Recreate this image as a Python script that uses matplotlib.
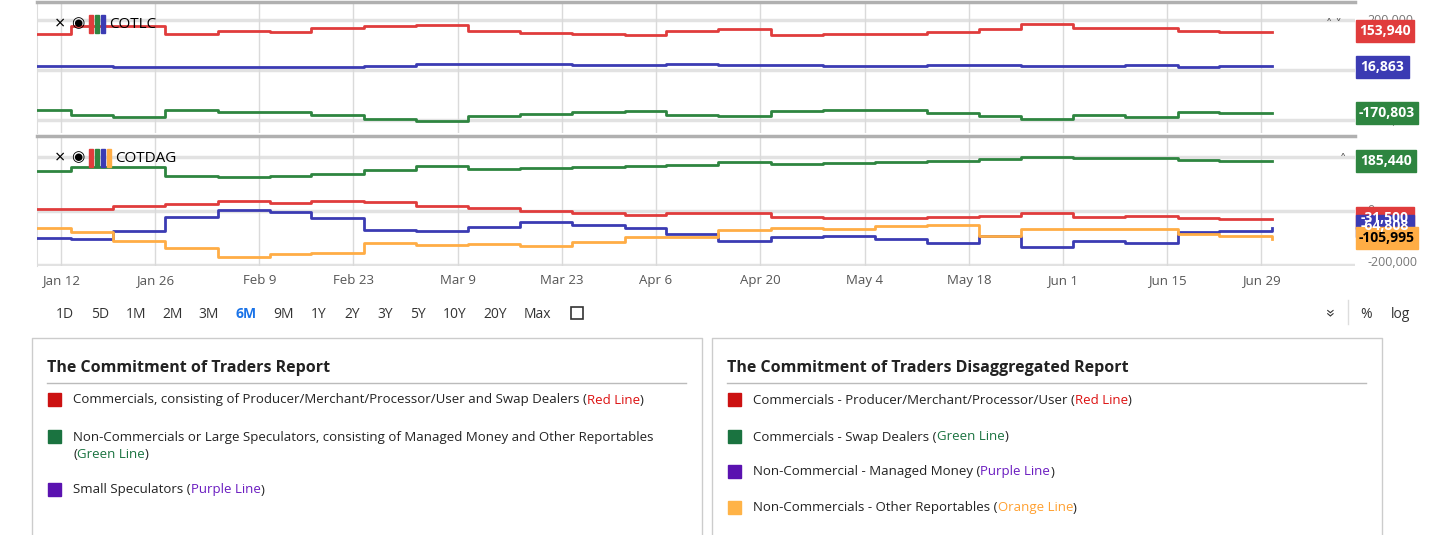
import numpy as np
import matplotlib
matplotlib.use("Agg")
import matplotlib.pyplot as plt
from matplotlib.patches import Rectangle

plt.rcParams['font.family'] = ['Open Sans', 'DejaVu Sans']

W, H = 1430, 535
holidays = ['2026-01-19', '2026-02-16', '2026-04-03', '2026-05-25', '2026-06-19']

# weekly COT report dates (Tuesdays); last one is the latest print
dates = ['2026-01-06', '2026-01-13', '2026-01-20', '2026-01-27', '2026-02-03', '2026-02-10',
         '2026-02-17', '2026-02-24', '2026-03-03', '2026-03-10', '2026-03-17', '2026-03-24',
         '2026-03-31', '2026-04-07', '2026-04-14', '2026-04-21', '2026-04-28', '2026-05-05',
         '2026-05-12', '2026-05-19', '2026-05-26', '2026-06-02', '2026-06-09', '2026-06-16',
         '2026-06-23', '2026-06-30']

# COTLC (thousands)
lc_red = [145.9, 175.3, 175.3, 145.9, 155.3, 151.3, 168.6, 176.6, 179.3, 158.0, 148.6, 144.6, 140.6,
          155.3, 164.6, 142.0, 143.3, 145.9, 151.3, 166.0, 183.3, 168.6, 170.0, 156.6, 153.94, 153.94]
lc_blue = [14.2, 14.2, 12.9, 12.9, 10.2, 12.9, 12.9, 16.9, 22.2, 24.9, 22.2, 20.9, 20.9,
           23.5, 18.2, 19.5, 16.9, 15.5, 18.2, 19.5, 15.5, 14.2, 19.5, 12.9, 16.863, 16.863]
lc_green = [-161.5, -181.5, -189.5, -160.1, -168.1, -168.1, -181.5, -194.8, -202.8, -182.8, -174.8,
            -169.5, -164.1, -180.1, -182.8, -164.1, -160.1, -160.1, -172.1, -184.1, -197.5, -180.1,
            -188.1, -168.1, -170.803, -170.803]

# COTDAG (thousands)
dag_green = [145.7, 163.0, 163.0, 127.2, 126.0, 129.7, 137.1, 150.7, 164.3, 154.4, 159.3, 163.0, 165.5,
             170.4, 180.3, 172.9, 175.4, 179.1, 184.0, 192.7, 200.1, 195.1, 195.1, 189.0, 185.44, 185.44]
dag_red = [6.2, 6.2, 17.3, 24.7, 35.8, 29.6, 35.8, 30.9, 18.5, 8.6, -2.5, -8.6, -16.1,
           -7.4, -9.9, -22.2, -25.9, -25.9, -24.7, -19.8, -9.9, -22.2, -21.0, -28.4, -31.5, -31.5]
dag_blue = [-98.8, -102.5, -74.1, -22.2, 1.2, -6.2, -25.9, -71.6, -74.1, -61.8, -42.0, -51.9, -65.4,
            -84.0, -109.9, -97.6, -93.9, -103.7, -117.3, -91.4, -132.2, -111.2, -119.8, -80.3, -76.5, -64.808]
dag_orange = [-63.0, -77.8, -111.2, -138.3, -169.2, -160.6, -155.6, -119.8, -127.2, -121.0, -129.7,
              -114.9, -97.6, -95.1, -70.4, -65.4, -66.7, -58.0, -54.3, -93.9, -67.9, -69.2, -69.2,
              -86.5, -92.6, -105.995]

tick_dates = ['2026-01-12', '2026-01-26', '2026-02-09', '2026-02-23', '2026-03-09', '2026-03-23',
              '2026-04-06', '2026-04-20', '2026-05-04', '2026-05-18', '2026-06-01', '2026-06-15',
              '2026-06-29']
tick_labels = ['Jan 12', 'Jan 26', 'Feb 9', 'Feb 23', 'Mar 9', 'Mar 23', 'Apr 6', 'Apr 20',
               'May 4', 'May 18', 'Jun 1', 'Jun 15', 'Jun 29']

RED, BLUE, GREEN, ORANGE = '#e03c3c', '#3b3bb3', '#2e8540', '#ffad45'


def bday(d):
    return np.busday_count('2026-01-12', d, holidays=holidays)


x = np.array([bday(d) for d in dates])
xt = [bday(d) for d in tick_dates]

fig = plt.figure(figsize=(W / 100, H / 100), dpi=100)


def fx(px):
    return px / W


def fy(py):
    return 1 - py / H


def panel(top, bot, ylim, grid, series):
    ax = fig.add_axes([fx(37), fy(bot), fx(1355 - 37), (bot - top) / H])
    for s, c in series:
        ax.plot(x, np.array(s) * 1000, drawstyle='steps-post', color=c, lw=2, zorder=3)
    ax.set_xlim(-2.3, 124)
    ax.set_ylim(*ylim)
    for g in grid:
        ax.axhline(g, color='#e2e2e2', lw=2.5, zorder=1)
    for t in xt:
        ax.axvline(t, color='#dadada', lw=1, zorder=1)
    ax.set_yticks([])
    ax.set_xticks([])
    for k in ['right', 'bottom']:
        ax.spines[k].set_visible(False)
    ax.spines['left'].set_color('#dddddd')
    ax.spines['top'].set_color('#b0b0b0')
    ax.spines['top'].set_linewidth(2.5)
    return ax


ax1 = panel(2, 133, (-252000, 272000), [200000, 0, -200000],
            [(lc_red, RED), (lc_blue, BLUE), (lc_green, GREEN)])
ax2 = panel(136, 266, (-204000, 276000), [200000, 0, -200000],
            [(dag_green, GREEN), (dag_red, RED), (dag_blue, BLUE), (dag_orange, ORANGE)])
ax2.set_xticks(xt)
ax2.set_xticklabels(tick_labels, fontsize=9.5, color='#555555')
ax2.tick_params(axis='x', length=0, pad=6)

# right axis values
for txt, py in [('200,000', 20), ('-200,000', 121)]:
    fig.text(fx(1367), fy(py), txt, fontsize=9, color='#777777', va='center')
for txt, py in [('0', 210), ('-200,000', 263)]:
    fig.text(fx(1367), fy(py), txt, fontsize=9, color='#777777', va='center')


def tag(txt, py, c, w, tc='white'):
    fig.patches.append(Rectangle((fx(1356), fy(py + 11)), w / W, 22 / H, transform=fig.transFigure,
                                 color=c, zorder=5))
    fig.text(fx(1356 + w / 2), fy(py), txt, fontsize=10, color=tc, fontweight='bold',
             ha='center', va='center', zorder=6)


tag('153,940', 31, RED, 58)
tag('16,863', 67, BLUE, 53)
tag('-170,803', 113, GREEN, 62)
tag('185,440', 161, GREEN, 60)
tag('-31,500', 218, RED, 58)
tag('-64,808', 226, BLUE, 58)
tag('-105,995', 238, ORANGE, 62, tc='black')
fig.text(fx(1326), fy(24), '˄ ˅', fontsize=9, color='#555555', va='center')
fig.text(fx(1340), fy(160), '˄', fontsize=9, color='#555555', va='center')


# study headers
def header(py, name, cols):
    fig.text(fx(55), fy(py), '×', fontsize=13, va='center')
    fig.text(fx(71), fy(py), '◉', fontsize=11, va='center')
    for i, c in enumerate(cols):
        fig.patches.append(Rectangle((fx(89 + i * 6), fy(py + 9)), 3.5 / W, 18 / H,
                                     transform=fig.transFigure, color=c, zorder=5))
    fig.text(fx(91 + len(cols) * 6), fy(py), name, fontsize=11, va='center')


header(24, 'COTLC', [RED, GREEN, BLUE])
header(158, 'COTDAG', [RED, GREEN, BLUE, ORANGE])

# range buttons
ranges = ['1D', '5D', '1M', '2M', '3M', '6M', '9M', '1Y', '2Y', '3Y', '5Y', '10Y', '20Y', 'Max']
range_x = [65, 100, 136, 173, 209, 246, 284, 319, 352, 385, 418, 455, 495, 537]
for r, px in zip(ranges, range_x):
    sel = r == '6M'
    fig.text(fx(px), fy(314), r, fontsize=10, ha='center', va='center',
             color='#1a73e8' if sel else '#333333', fontweight='bold' if sel else 'normal')
fig.patches.append(Rectangle((fx(571), fy(319)), 12 / W, 12 / H, transform=fig.transFigure,
                             fill=False, ec='#333333', lw=1.2))
fig.text(fx(1328), fy(312), '»', fontsize=12, rotation=-90, ha='center', va='center', color='#333333')
fig.add_artist(plt.Line2D([fx(1348), fx(1348)], [fy(300), fy(324)], color='#dddddd', lw=1))
fig.text(fx(1366), fy(314), '%', fontsize=10, ha='center', va='center', color='#333333')
fig.text(fx(1401), fy(314), 'log', fontsize=10, ha='center', va='center', color='#333333')

# info boxes
renderer = fig.canvas.get_renderer()


def rich(px, py, parts):
    for s, c in parts:
        t = fig.text(fx(px), fy(py), s, fontsize=9.5, color=c, va='center')
        px += t.get_window_extent(renderer).width


LRED, LGREEN, LPURPLE, LORANGE = '#cc1111', '#1a7340', '#5a12b0', '#ffb347'
boxes = [
    (32, 'The Commitment of Traders Report', [
        (400, LRED, [[('Commercials, consisting of Producer/Merchant/Processor/User and Swap Dealers (', '#222222'),
                      ('Red Line', '#dd1111'), (')', '#222222')]]),
        (437, LGREEN, [[('Non-Commercials or Large Speculators, consisting of Managed Money and Other Reportables', '#222222')],
                       [('(', '#222222'), ('Green Line', '#1a7340'), (')', '#222222')]]),
        (490, LPURPLE, [[('Small Speculators (', '#222222'), ('Purple Line', '#6a1bc0'), (')', '#222222')]]),
    ]),
    (712, 'The Commitment of Traders Disaggregated Report', [
        (400, LRED, [[('Commercials - Producer/Merchant/Processor/User (', '#222222'),
                      ('Red Line', '#dd1111'), (')', '#222222')]]),
        (437, LGREEN, [[('Commercials - Swap Dealers (', '#222222'), ('Green Line', '#1a7340'), (')', '#222222')]]),
        (472, LPURPLE, [[('Non-Commercial - Managed Money (', '#222222'), ('Purple Line', '#6a1bc0'), (')', '#222222')]]),
        (508, LORANGE, [[('Non-Commercials - Other Reportables (', '#222222'), ('Orange Line', '#ffa030'), (')', '#222222')]]),
    ]),
]
for bx, title, items in boxes:
    fig.add_artist(plt.Line2D([fx(bx), fx(bx), fx(bx + 670), fx(bx + 670)],
                              [fy(535), fy(338), fy(338), fy(535)], color='#cccccc', lw=1))
    fig.text(fx(bx + 15), fy(368), title, fontsize=11.5, fontweight='bold', va='center', color='#222222')
    fig.add_artist(plt.Line2D([fx(bx + 15), fx(bx + 654)], [fy(383), fy(383)], color='#bbbbbb', lw=1))
    for py, sq, lines in items:
        fig.patches.append(Rectangle((fx(bx + 16), fy(py + 6)), 13 / W, 13 / H,
                                     transform=fig.transFigure, color=sq))
        for k, parts in enumerate(lines):
            rich(bx + 41, py + 18 * k, parts)

fig.savefig('out.png', dpi=100)
